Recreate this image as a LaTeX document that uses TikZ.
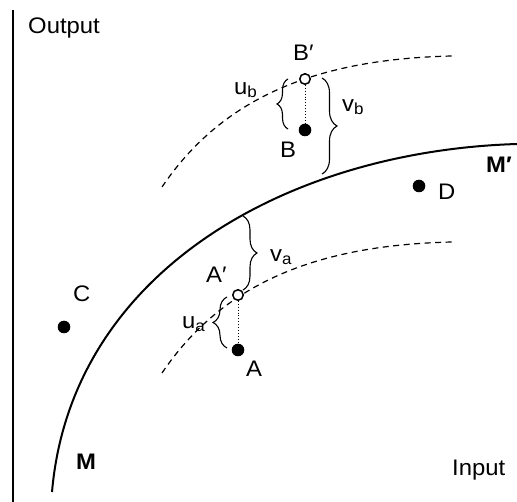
\documentclass[tikz,border=0pt]{standalone}
\usepackage{fontspec}
\setmainfont{Liberation Sans}[FakeStretch=1.06]
\usetikzlibrary{decorations.pathreplacing}
\newcommand\sbs[1]{\raisebox{-0.2ex}{\fontsize{16}{16}\selectfont #1}}
\begin{document}
\begin{tikzpicture}[x=1pt,y=-1pt,
  lbl/.style={anchor=base west,inner sep=0pt,font=\fontsize{22.5}{26}\selectfont},
  dot/.style={circle,fill=black,inner sep=0pt,minimum size=12.6pt},
  odot/.style={circle,draw=black,fill=white,line width=1.5pt,inner sep=0pt,minimum size=10.5pt},
  dashcurve/.style={line width=1.2pt,dash pattern=on 6pt off 4.5pt},
  bracestyle/.style={line width=1.1pt,decorate,decoration={brace,amplitude=#1}},
  guide/.style={line width=0.9pt,dotted}]
\useasboundingbox (0,0) rectangle (517,502);
% axis
\draw[line width=2.4pt] (13,10) -- (13,502);
% dashed iso curves
\draw[dashcurve] (162,373) .. controls (225,280) and (322,245) .. (452,242);
\draw[dashcurve] (162,187) .. controls (225,94) and (322,59) .. (452,56);
% frontier M
\draw[line width=2pt] (52,492) .. controls (71,272) and (287,151) .. (517,144);
% points
\node[dot] (A) at (238,350) {};
\node[dot] (B) at (305,130) {};
\node[dot] (C) at (64,327) {};
\node[dot] (D) at (419,186) {};
\node[odot] (Ap) at (238,295) {};
\node[odot] (Bp) at (305,79) {};
\draw[guide] (Ap) -- (A);
\draw[guide] (Bp) -- (B);
% brace end coordinates
\coordinate (ub1) at (288,129);
\coordinate (ub2) at (288,79);
\coordinate (vb1) at (322,78);
\coordinate (vb2) at (322,174);
\coordinate (va1) at (243,216);
\coordinate (va2) at (243,290);
\coordinate (ua1) at (227,348);
\coordinate (ua2) at (227,297);
\draw[bracestyle=11pt] (ub1) -- (ub2);
\draw[bracestyle=15pt] (vb1) -- (vb2);
\draw[bracestyle=14pt] (va1) -- (va2);
\draw[bracestyle=14pt] (ua1) -- (ua2);
% labels
\node[lbl] (out) at (28,34) {Output};
\node[lbl] (inp) at (452,476) {Input};
\node[lbl] (lBp) at (293,61) {B′};
\node[lbl] (lub) at (234,95) {u\sbs{b}};
\node[lbl] (lvb) at (342,112) {v\sbs{b}};
\node[lbl] (lB) at (280,158) {B};
\node[lbl] (lD) at (438,200) {D};
\node[lbl] (lMp) at (486,173) {\bfseries M′};
\node[lbl] (lva) at (270,262) {v\sbs{a}};
\node[lbl] (lAp) at (206,283) {A′};
\node[lbl] (lua) at (182,329) {u\sbs{a}};
\node[lbl] (lA) at (246,377) {A};
\node[lbl] (lC) at (73,302) {C};
\node[lbl] (lM) at (76,470) {\bfseries M};
\end{tikzpicture}
\end{document}
